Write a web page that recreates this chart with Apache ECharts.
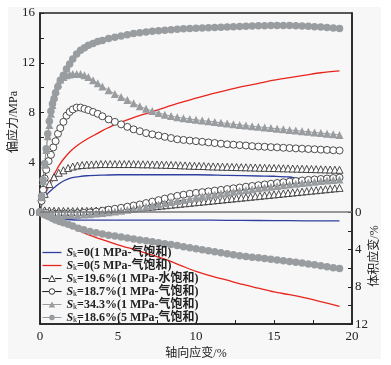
<!DOCTYPE html>
<html><head><meta charset="utf-8">
<script src="https://cdn.jsdelivr.net/npm/echarts@6/dist/echarts.min.js"></script>
<style>
html,body{margin:0;padding:0;background:#fff}
#bg{position:absolute;left:8px;top:7px;width:373px;height:352px;background:#f7f7f7}
#c{position:absolute;left:0;top:0;width:391px;height:365px}
</style>
</head><body><div id="bg"></div><div id="c"></div><script>
// ---- data ----
const names = ['Sk=0(1 MPa-气饱和)','Sk=0(5 MPa-气饱和)','Sk=19.6%(1 MPa-水饱和)','Sk=18.7%(1 MPa-气饱和)','Sk=34.3%(1 MPa-气饱和)','Sk=18.6%(5 MPa-气饱和)'];
const xTicks = [0,2.5,5,7.5,10,12.5,15,17.5,20];
const xLabels = [0,5,10,15,20];
const yTicks = [0,2,4,6,8,10,12,14,16];
const yLabels = [0,4,8,12,16];
const vTicks = [0,2,4,6,8,10,12];
const vLabels = [0,4,8,12];

// blue: Sk=0 (1 MPa)
const xBlue = [0,0.1,0.25,0.5,0.75,1,1.25,1.5,2,2.5,3,4,5,6,8,10,12,14,15,16,16.5,17,17.5,18,18.5,19.2];
const blueStress = [0,0.7,1.1,1.5,1.8,2.05,2.3,2.5,2.75,2.85,2.92,2.97,3.0,3.0,3.0,3.0,2.95,2.9,2.88,2.82,2.7,2.62,2.6,2.62,2.65,2.68];
const xBlueV = [0,0.25,0.5,0.75,1,1.5,2,2.5,3,4,6,8,10,12,14,16,18,19.2];
const blueVol = [0,0.2,0.38,0.52,0.62,0.75,0.82,0.85,0.86,0.86,0.85,0.85,0.86,0.88,0.9,0.92,0.94,0.95];

// red: Sk=0 (5 MPa)
const xRed = [0,0.1,0.25,0.5,0.75,1,1.25,1.5,2,2.5,3,3.5,4,4.5,5,6,7,8,9,10,11,12,13,14,15,16,17,18,19.2];
const redStress = [0,0.6,1.2,2.0,2.7,3.25,3.8,4.25,4.95,5.45,5.85,6.2,6.55,6.85,7.15,7.6,8.0,8.4,8.8,9.15,9.5,9.8,10.1,10.35,10.6,10.8,11.0,11.2,11.35];
const xRedV = [0,0.5,1,1.5,2,3,4,5,6,7,8,9,10,11,12,13,14,15,16,17,18,19.2];
const redVol = [0,0.4,0.8,1.2,1.6,2.35,2.95,3.5,4.0,4.5,5.05,5.7,6.35,6.85,7.3,7.75,8.15,8.55,8.85,9.2,9.6,10.1];

// open triangles: Sk=19.6% (1 MPa, water)
const xTri = [0,0.3,0.6,0.9,1.2,1.5,1.8,2.1,2.4,2.7,3,3.3,3.6,3.9,4.2,4.5,4.8,5.1,5.4,5.7,6,6.3,6.6,6.9,7.2,7.5,7.8,8.1,8.4,8.7,9,9.3,9.6,9.9,10.2,10.5,10.8,11.1,11.4,11.7,12,12.3,12.6,12.9,13.2,13.5,13.8,14.1,14.4,14.7,15,15.3,15.6,15.9,16.2,16.5,16.8,17.1,17.4,17.7,18,18.3,18.6,18.9,19.2];
const triStress = [0,1.3,2.1,2.65,3.0,3.2,3.38,3.5,3.58,3.62,3.65,3.67,3.68,3.7,3.7,3.7,3.7,3.7,3.7,3.7,3.7,3.69,3.68,3.68,3.67,3.66,3.65,3.64,3.63,3.62,3.6,3.59,3.57,3.56,3.55,3.54,3.52,3.51,3.5,3.49,3.48,3.47,3.46,3.45,3.44,3.43,3.42,3.41,3.4,3.39,3.38,3.37,3.36,3.35,3.34,3.33,3.32,3.31,3.3,3.29,3.28,3.27,3.26,3.25,3.24];
const triVol = [0,0.03,0.05,0.07,0.08,0.09,0.1,0.1,0.1,0.09,0.08,0.07,0.05,0.03,0.01,-0.02,-0.05,-0.09,-0.13,-0.17,-0.21,-0.25,-0.29,-0.34,-0.38,-0.43,-0.48,-0.53,-0.58,-0.63,-0.68,-0.73,-0.78,-0.83,-0.88,-0.93,-0.98,-1.03,-1.08,-1.13,-1.18,-1.23,-1.28,-1.33,-1.38,-1.43,-1.48,-1.53,-1.58,-1.63,-1.68,-1.73,-1.78,-1.83,-1.88,-1.93,-1.98,-2.03,-2.08,-2.13,-2.18,-2.23,-2.28,-2.33,-2.38];

// open circles: Sk=18.7% (1 MPa)
const xCir = [0,0.1,0.2,0.3,0.4,0.55,0.7,0.85,1.0,1.15,1.3,1.5,1.7,1.9,2.1,2.35,2.6,2.85,3.1,3.4,3.7,4.0,4.4,4.8,5.2,5.6,6.0,6.4,6.8,7.2,7.6,8.0,8.4,8.8,9.2,9.6,10.0,10.4,10.8,11.2,11.6,12.0,12.4,12.8,13.2,13.6,14.0,14.4,14.8,15.2,15.6,16.0,16.4,16.8,17.2,17.6,18.0,18.4,18.8,19.2];
const cirStress = [0,0.9,1.8,2.7,3.4,4.1,4.6,5.2,5.7,6.3,6.75,7.25,7.75,8.05,8.25,8.4,8.4,8.3,8.2,8.05,7.9,7.7,7.45,7.25,7.05,6.85,6.65,6.5,6.35,6.25,6.15,6.05,5.95,5.85,5.8,5.75,5.7,5.65,5.6,5.55,5.5,5.45,5.42,5.38,5.35,5.3,5.27,5.25,5.22,5.2,5.17,5.15,5.12,5.1,5.07,5.05,5.02,5.0,4.97,4.95];
const xV4 = [0,0.4,0.8,1.2,1.6,2,2.4,2.8,3.2,3.6,4,4.4,4.8,5.2,5.6,6,6.4,6.8,7.2,7.6,8,8.4,8.8,9.2,9.6,10,10.4,10.8,11.2,11.6,12,12.4,12.8,13.2,13.6,14,14.4,14.8,15.2,15.6,16,16.4,16.8,17.2,17.6,18,18.4,18.8,19.2];
const cirVol = [0,0.08,0.13,0.15,0.15,0.14,0.12,0.08,0.03,-0.05,-0.14,-0.26,-0.36,-0.46,-0.58,-0.7,-0.82,-0.97,-1.12,-1.28,-1.45,-1.6,-1.74,-1.86,-1.97,-2.06,-2.14,-2.22,-2.3,-2.38,-2.47,-2.55,-2.63,-2.72,-2.8,-2.88,-2.96,-3.04,-3.12,-3.2,-3.27,-3.33,-3.39,-3.45,-3.5,-3.55,-3.6,-3.65,-3.7];

// gray triangles: Sk=34.3% (1 MPa)
const xGT = [0,0.1,0.2,0.3,0.4,0.5,0.6,0.7,0.8,0.9,1.0,1.15,1.3,1.5,1.7,1.9,2.1,2.35,2.6,2.85,3.1,3.4,3.7,4.0,4.4,4.8,5.2,5.6,6.0,6.4,6.8,7.2,7.6,8.0,8.4,8.8,9.2,9.6,10.0,10.4,10.8,11.2,11.6,12.0,12.4,12.8,13.2,13.6,14.0,14.4,14.8,15.2,15.6,16.0,16.4,16.8,17.2,17.6,18.0,18.4,18.8,19.2];
const gtStress = [0,1.2,2.5,3.8,5.0,6.1,7.0,7.9,8.6,9.3,9.8,10.3,10.65,10.85,11.0,11.05,11.1,11.1,11.1,11.0,10.85,10.6,10.35,10.1,9.8,9.5,9.25,9.0,8.75,8.5,8.3,8.12,7.97,7.83,7.72,7.62,7.55,7.48,7.42,7.36,7.3,7.24,7.18,7.12,7.06,7.0,6.95,6.9,6.85,6.8,6.75,6.7,6.65,6.6,6.55,6.5,6.45,6.4,6.35,6.3,6.25,6.2];
const gtVol = [0,0.15,0.25,0.3,0.32,0.32,0.3,0.27,0.22,0.16,0.1,0.02,-0.06,-0.15,-0.25,-0.35,-0.46,-0.58,-0.7,-0.82,-0.95,-1.07,-1.19,-1.31,-1.43,-1.55,-1.66,-1.77,-1.88,-1.98,-2.08,-2.18,-2.28,-2.37,-2.46,-2.55,-2.64,-2.72,-2.8,-2.88,-2.96,-3.04,-3.11,-3.18,-3.25,-3.32,-3.38,-3.44,-3.5];

// gray circles: Sk=18.6% (5 MPa)
const gcStress = [0,1.3,2.6,3.9,5.1,6.3,7.3,8.1,8.7,9.1,9.6,10.1,10.6,11.0,11.5,11.9,12.3,12.7,13.0,13.2,13.4,13.55,13.7,13.8,13.95,14.05,14.15,14.25,14.35,14.42,14.48,14.53,14.58,14.62,14.66,14.7,14.73,14.76,14.78,14.8,14.82,14.84,14.86,14.88,14.9,14.92,14.94,14.96,14.97,14.98,15.0,15.0,15.0,15.0,14.98,14.96,14.94,14.9,14.87,14.83,14.8,14.75];
const xGCV = [0,0.15,0.3,0.45,0.6,0.8,1.0,1.25,1.5,1.8,2.1,2.45,2.8,3.2,3.6,4.0,4.4,4.8,5.2,5.6,6.0,6.4,6.8,7.2,7.6,8.0,8.4,8.8,9.2,9.6,10.0,10.4,10.8,11.2,11.6,12.0,12.4,12.8,13.2,13.6,14.0,14.4,14.8,15.2,15.6,16.0,16.4,16.8,17.2,17.6,18.0,18.4,18.8,19.2];
const gcVol = [0,0.15,0.28,0.4,0.5,0.68,0.85,1.0,1.15,1.3,1.5,1.72,1.9,2.08,2.22,2.35,2.47,2.57,2.66,2.77,2.88,2.98,3.08,3.18,3.28,3.38,3.48,3.58,3.7,3.82,3.93,4.04,4.14,4.25,4.36,4.47,4.57,4.67,4.75,4.83,4.9,4.97,5.05,5.12,5.2,5.28,5.37,5.46,5.55,5.65,5.75,5.85,5.95,6.05];

// ---- chart ----
const zip = (xs, ys) => xs.map((x, i) => [x, ys[i]]);
const SERIF = "'Liberation Serif','Noto Sans CJK SC',serif";
const GRAY = '#9a9da0';
const BLUE = '#2f3f9f';
const RED = '#e8251d';
const DARK = '#222';

function mk(name, xs, ys, yi, opt) {
  return Object.assign({
    type: 'line', name: name, yAxisIndex: yi, data: zip(xs, ys),
    showAllSymbol: true, animation: false, z: 3
  }, opt);
}
const blueOpt = {symbol: 'none', smooth: 0.3, lineStyle: {color: BLUE, width: 1.3}, itemStyle: {color: BLUE}};
const redOpt = {symbol: 'none', smooth: 0.3, lineStyle: {color: RED, width: 1.3}, itemStyle: {color: RED}};
const triOptS = {symbol: 'triangle', symbolSize: 7, symbolOffset: [0, -2], lineStyle: {color: '#888', width: 1}, itemStyle: {color: '#fff', borderColor: DARK, borderWidth: 0.8}};
const triOptV = {symbol: 'triangle', symbolSize: 7, symbolOffset: [0, -2], lineStyle: {color: DARK, width: 1}, itemStyle: {color: '#fff', borderColor: DARK, borderWidth: 0.8}};
const cirOpt = {symbol: 'circle', symbolSize: 7, lineStyle: {color: DARK, width: 0.8}, itemStyle: {color: '#fff', borderColor: DARK, borderWidth: 0.8}};
const gtOpt = {symbol: 'triangle', symbolSize: 8, lineStyle: {color: GRAY, width: 1}, itemStyle: {color: GRAY}};
const gcOpt = {symbol: 'circle', symbolSize: 7.5, lineStyle: {color: GRAY, width: 1}, itemStyle: {color: GRAY}};

const series = [
  mk(names[0], xBlue, blueStress, 0, Object.assign({
    markLine: {silent: true, symbol: ['none', 'none'], label: {show: false},
      lineStyle: {color: '#777', width: 1.5, type: 'solid'}, data: [{yAxis: 0}]}
  }, blueOpt)),
  mk('v' + names[0], xBlueV, blueVol, 1, blueOpt),
  mk(names[1], xRed, redStress, 0, redOpt),
  mk('v' + names[1], xRedV, redVol, 1, redOpt),
  mk(names[2], xTri, triStress, 0, triOptS),
  mk('v' + names[2], xTri, triVol, 1, triOptV),
  mk(names[3], xCir, cirStress, 0, cirOpt),
  mk('v' + names[3], xV4, cirVol, 1, cirOpt),
  mk(names[4], xGT, gtStress, 0, gtOpt),
  mk('v' + names[4], xV4, gtVol, 1, gtOpt),
  mk(names[5], xGT, gcStress, 0, gcOpt),
  mk('v' + names[5], xGCV, gcVol, 1, gcOpt)
];

// legend icons: short line segments with a small marker in the middle
const iconLine = 'path://M0,2.6h19v1.3h-19z';
const iconCircle = 'path://M0,3h6.4v0.05h-6.4z M12.6,3h6.4v0.05h-6.4z M9.5,0.2a2.8,2.8 0 1,1 -0.01,0z';
const iconTri = 'path://M0,3h6.4v0.05h-6.4z M12.6,3h6.4v0.05h-6.4z M9.5,0 L12.8,6 L6.2,6 Z';
const iconCircleF = 'path://M0,2.5h19v1h-19z M9.5,0.2a2.8,2.8 0 1,1 -0.01,0z';
const iconTriF = 'path://M0,2.5h19v1h-19z M9.5,0 L12.8,6 L6.2,6 Z';
const openStyle = {color: '#fff', borderColor: DARK, borderWidth: 0.9};
const grayStyle = {color: GRAY, borderWidth: 0};
const legendData = [
  {name: names[0], icon: iconLine, itemStyle: {color: BLUE, borderWidth: 0}},
  {name: names[1], icon: iconLine, itemStyle: {color: RED, borderWidth: 0}},
  {name: names[2], icon: iconTri, itemStyle: openStyle},
  {name: names[3], icon: iconCircle, itemStyle: openStyle},
  {name: names[4], icon: iconTriF, itemStyle: grayStyle},
  {name: names[5], icon: iconCircleF, itemStyle: grayStyle}
];

const axisFont = {fontFamily: SERIF, fontSize: 13, color: DARK};
const chart = echarts.init(document.getElementById('c'), null, {renderer: 'canvas'});
chart.setOption({
  animation: false,
  backgroundColor: 'transparent',
  grid: {left: 40, right: 39, top: 13, bottom: 35, show: true, borderColor: DARK, borderWidth: 1.5, backgroundColor: 'transparent'},
  xAxis: {
    type: 'value', min: 0, max: 20,
    name: '轴向应变/%', nameLocation: 'middle', nameGap: 16,
    nameTextStyle: {fontFamily: SERIF, fontSize: 12, color: DARK, verticalAlign: 'top'},
    axisLine: {onZero: false, lineStyle: {color: DARK, width: 1.5}},
    axisTick: {inside: true, length: 4, customValues: xTicks, lineStyle: {color: DARK}},
    axisLabel: Object.assign({margin: 6, customValues: xLabels}, axisFont),
    splitLine: {show: false}
  },
  yAxis: [{
    type: 'value', min: -9, max: 16, position: 'left',
    axisLine: {show: true, onZero: false, lineStyle: {color: DARK, width: 1.5}},
    axisTick: {show: true, inside: true, length: 4, customValues: yTicks, lineStyle: {color: DARK}},
    axisLabel: Object.assign({margin: 5, customValues: yLabels}, axisFont),
    splitLine: {show: false}
  }, {
    type: 'value', min: -64 / 3, max: 12, inverse: true, position: 'right',
    axisLine: {show: true, onZero: false, lineStyle: {color: DARK, width: 1.5}},
    axisTick: {show: true, inside: true, length: 4, customValues: vTicks, lineStyle: {color: DARK}},
    axisLabel: Object.assign({margin: 3, customValues: vLabels}, axisFont),
    splitLine: {show: false}
  }],
  legend: {
    orient: 'vertical', left: 42, top: 246, padding: 0, itemGap: 0, z: 20,
    itemWidth: 19, itemHeight: 6, data: legendData,
    formatter: n => '{s|S}{k|k}{t|' + n.slice(2) + '}',
    textStyle: {
      fontFamily: SERIF, fontSize: 12, color: DARK, lineHeight: 13,
      rich: {
        s: {fontFamily: SERIF, fontSize: 12, fontStyle: 'italic', fontWeight: 'bold', color: DARK, lineHeight: 13},
        k: {fontFamily: SERIF, fontSize: 8, color: DARK, lineHeight: 8, verticalAlign: 'bottom'},
        t: {fontFamily: SERIF, fontSize: 12, fontWeight: 'bold', color: DARK, lineHeight: 13}
      }
    }
  },
  graphic: [
    {type: 'text', x: 14, y: 122, rotation: Math.PI / 2,
      style: {text: '偏应力/MPa', font: "12px 'Liberation Serif','Noto Sans CJK SC',serif", fill: DARK, align: 'center', verticalAlign: 'middle'}},
    {type: 'text', x: 375, y: 256, rotation: Math.PI / 2,
      style: {text: '体积应变/%', font: "12px 'Liberation Serif','Noto Sans CJK SC',serif", fill: DARK, align: 'center', verticalAlign: 'middle'}}
  ],
  series: series
});
</script></body></html>
